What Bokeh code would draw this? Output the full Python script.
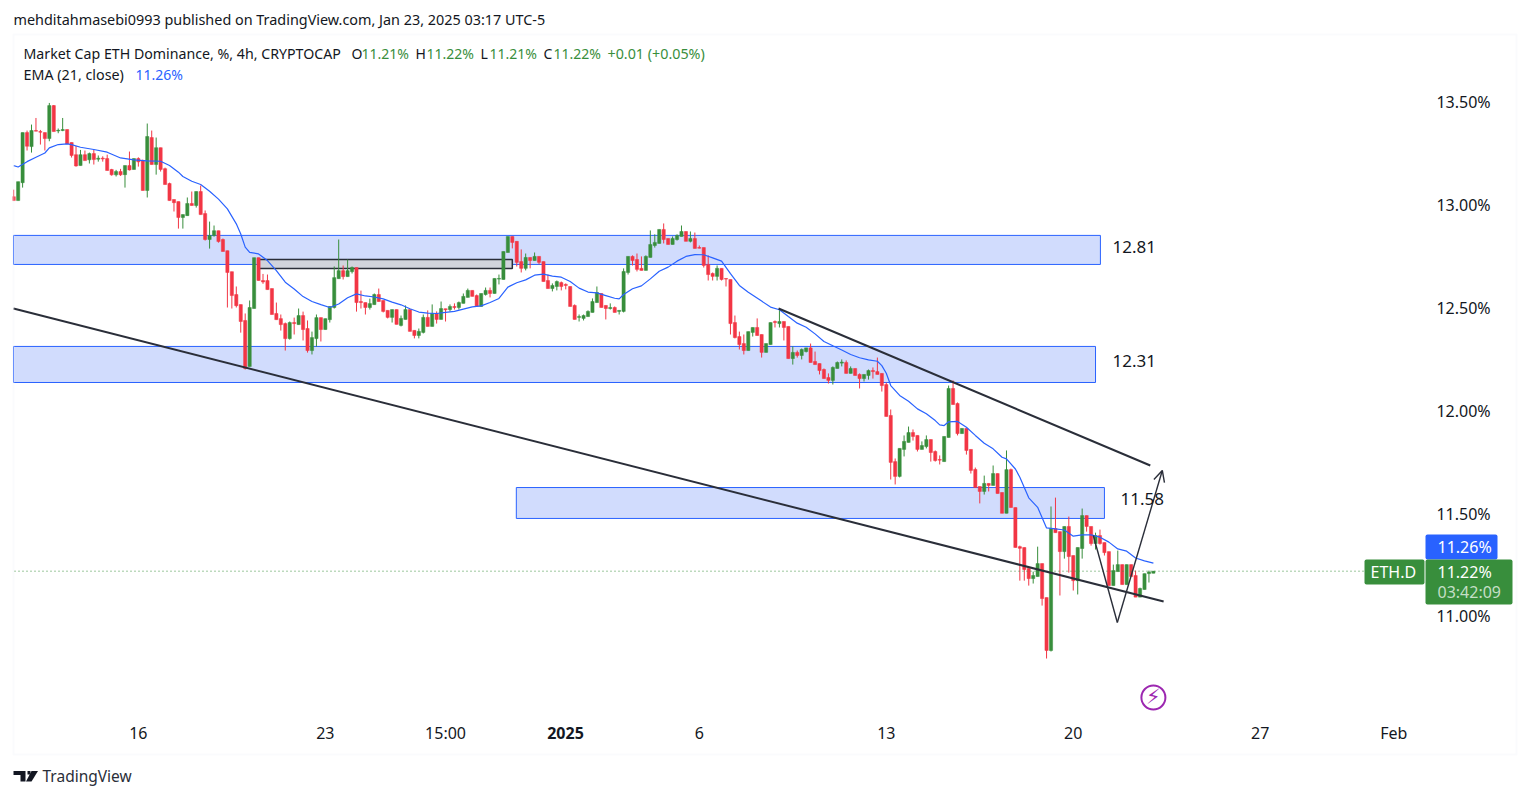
from bokeh.embed import file_html
from bokeh.resources import INLINE
from bokeh.plotting import figure
from bokeh.models import (LinearAxis, FixedTicker, PrintfTickFormatter, Range1d, Label,
                          BoxAnnotation, PolyAnnotation, Arrow, OpenHead, ColumnDataSource)

opens = [13.038,13.019,13.106,13.349,13.281,13.359,13.354,13.349,13.320,13.480,
13.357,13.359,13.364,13.301,13.242,13.189,13.242,13.217,13.247,13.220,
13.225,13.223,13.170,13.144,13.160,13.145,13.189,13.170,13.223,13.213,
13.068,13.325,13.194,13.276,13.174,13.102,13.024,13.014,12.937,12.946,
13.005,12.995,13.063,12.956,12.830,12.849,12.873,12.830,12.776,12.674,
12.563,12.514,12.437,12.213,12.495,12.742,12.631,12.631,12.592,12.471,
12.446,12.422,12.349,12.427,12.417,12.461,12.398,12.291,12.349,12.451,
12.393,12.441,12.500,12.640,12.679,12.650,12.674,12.694,12.529,12.524,
12.500,12.514,12.563,12.534,12.486,12.452,12.490,12.413,12.442,12.490,
12.389,12.364,12.379,12.452,12.408,12.471,12.442,12.494,12.490,12.505,
12.500,12.520,12.549,12.583,12.558,12.505,12.563,12.583,12.568,12.638,
12.636,12.767,12.845,12.821,12.723,12.690,12.743,12.728,12.748,12.723,
12.631,12.592,12.602,12.621,12.612,12.602,12.510,12.452,12.447,12.456,
12.476,12.524,12.568,12.510,12.495,12.500,12.481,12.481,12.670,12.748,
12.733,12.690,12.680,12.743,12.801,12.811,12.879,12.835,12.806,12.830,
12.845,12.869,12.821,12.835,12.791,12.791,12.709,12.665,12.651,12.690,
12.641,12.636,12.427,12.359,12.325,12.291,12.379,12.403,12.369,12.282,
12.320,12.432,12.422,12.432,12.408,12.252,12.282,12.267,12.286,12.304,
12.238,12.228,12.199,12.160,12.146,12.204,12.230,12.233,12.180,12.204,
12.175,12.155,12.170,12.194,12.189,12.180,12.126,11.976,11.752,11.680,
11.811,11.845,11.893,11.879,11.811,11.825,11.859,11.801,11.762,11.752,
11.869,12.107,12.034,11.888,11.913,11.811,11.714,11.631,11.607,11.646,
11.636,11.694,11.602,11.501,11.713,11.529,11.339,11.335,11.233,11.184,
11.194,11.257,11.092,10.835,11.427,11.412,11.315,11.437,11.296,11.174,
11.330,11.490,11.437,11.354,11.393,11.359,11.315,11.150,11.218,11.252,
11.155,11.252,11.199,11.094,11.131,11.208,11.21]

closes = [13.019,13.111,13.349,13.283,13.359,13.356,13.351,13.320,13.480,13.354,
13.360,13.364,13.294,13.238,13.187,13.242,13.213,13.247,13.218,13.225,
13.221,13.165,13.144,13.160,13.144,13.189,13.168,13.223,13.207,13.068,
13.330,13.194,13.276,13.170,13.097,13.019,13.009,12.937,12.951,13.005,
12.995,13.063,12.951,12.830,12.849,12.873,12.820,12.772,12.670,12.558,
12.509,12.432,12.204,12.500,12.742,12.631,12.624,12.587,12.466,12.441,
12.417,12.349,12.427,12.422,12.461,12.393,12.291,12.354,12.451,12.393,
12.446,12.505,12.645,12.679,12.650,12.679,12.694,12.524,12.524,12.500,
12.519,12.563,12.529,12.481,12.452,12.490,12.418,12.447,12.490,12.384,
12.364,12.384,12.452,12.408,12.471,12.442,12.495,12.489,12.505,12.500,
12.524,12.554,12.583,12.554,12.505,12.568,12.583,12.568,12.641,12.641,
12.772,12.845,12.816,12.719,12.690,12.743,12.728,12.748,12.719,12.626,
12.592,12.607,12.626,12.602,12.607,12.505,12.442,12.456,12.461,12.481,
12.529,12.573,12.500,12.495,12.500,12.476,12.486,12.675,12.748,12.728,
12.685,12.680,12.748,12.806,12.816,12.879,12.830,12.806,12.835,12.850,
12.869,12.821,12.835,12.787,12.788,12.704,12.660,12.651,12.690,12.636,
12.638,12.422,12.354,12.320,12.291,12.383,12.403,12.364,12.282,12.325,
12.427,12.427,12.432,12.403,12.252,12.282,12.267,12.296,12.304,12.233,
12.223,12.194,12.155,12.146,12.209,12.233,12.235,12.180,12.204,12.170,
12.155,12.175,12.194,12.189,12.175,12.121,11.971,11.748,11.680,11.816,
11.850,11.893,11.874,11.811,11.830,11.859,11.796,11.757,11.759,11.874,
12.107,12.029,11.888,11.913,11.806,11.709,11.626,11.607,11.646,11.636,
11.694,11.597,11.501,11.713,11.529,11.335,11.331,11.228,11.184,11.199,
11.257,11.087,10.835,11.427,11.407,11.315,11.437,11.291,11.174,11.335,
11.490,11.437,11.354,11.393,11.354,11.310,11.150,11.223,11.252,11.155,
11.252,11.194,11.094,11.136,11.208,11.216,11.22]

highs = [13.072,13.111,13.349,13.359,13.388,13.420,13.362,13.349,13.493,13.483,
13.369,13.420,13.364,13.301,13.284,13.265,13.262,13.252,13.265,13.238,
13.234,13.242,13.173,13.168,13.173,13.189,13.257,13.223,13.229,13.218,
13.393,13.359,13.325,13.276,13.179,13.106,13.024,13.014,12.951,13.034,
13.063,13.063,13.092,12.971,12.917,12.898,12.873,12.835,12.776,12.674,
12.602,12.514,12.471,12.534,12.742,12.742,12.663,12.660,12.592,12.524,
12.466,12.427,12.432,12.451,12.495,12.480,12.437,12.383,12.466,12.451,
12.446,12.505,12.699,12.830,12.704,12.733,12.699,12.694,12.582,12.524,
12.543,12.568,12.592,12.534,12.486,12.490,12.490,12.461,12.510,12.490,
12.389,12.398,12.466,12.486,12.515,12.481,12.529,12.494,12.515,12.520,
12.529,12.568,12.592,12.583,12.563,12.568,12.597,12.597,12.641,12.660,
12.772,12.845,12.845,12.821,12.782,12.762,12.743,12.767,12.748,12.723,
12.660,12.617,12.631,12.626,12.617,12.602,12.515,12.466,12.466,12.486,
12.544,12.602,12.568,12.510,12.520,12.505,12.486,12.690,12.748,12.753,
12.762,12.748,12.753,12.874,12.855,12.879,12.908,12.835,12.845,12.855,
12.898,12.869,12.869,12.864,12.801,12.791,12.753,12.670,12.704,12.690,
12.641,12.636,12.461,12.383,12.369,12.383,12.403,12.447,12.369,12.325,
12.427,12.437,12.495,12.432,12.408,12.311,12.291,12.301,12.304,12.325,
12.286,12.228,12.204,12.180,12.214,12.238,12.248,12.243,12.214,12.204,
12.180,12.175,12.199,12.209,12.257,12.180,12.136,12.005,11.767,11.816,
11.879,11.922,11.908,11.879,11.850,11.879,11.859,11.806,11.782,11.874,
12.121,12.146,12.039,11.913,11.913,11.811,11.723,11.631,11.684,11.646,
11.733,11.694,11.602,11.806,11.718,11.529,11.344,11.335,11.233,11.218,
11.339,11.257,11.092,11.534,11.577,11.412,11.437,11.485,11.296,11.335,
11.524,11.490,11.437,11.407,11.422,11.359,11.315,11.252,11.320,11.252,
11.252,11.252,11.223,11.140,11.208,11.223,11.22]

lows = [13.019,13.019,13.082,13.262,13.252,13.356,13.291,13.262,13.307,13.354,
13.346,13.356,13.294,13.228,13.184,13.189,13.213,13.199,13.194,13.208,
13.208,13.165,13.140,13.136,13.139,13.082,13.165,13.170,13.184,13.068,
13.034,13.194,13.145,13.160,13.097,13.019,12.966,12.883,12.883,12.946,
12.995,12.985,12.951,12.825,12.786,12.844,12.815,12.772,12.500,12.495,
12.500,12.378,12.199,12.213,12.495,12.631,12.615,12.587,12.466,12.441,
12.388,12.291,12.344,12.369,12.417,12.340,12.281,12.272,12.310,12.335,
12.393,12.427,12.495,12.640,12.636,12.650,12.665,12.480,12.495,12.466,
12.490,12.514,12.529,12.476,12.447,12.427,12.418,12.408,12.442,12.384,
12.350,12.350,12.374,12.408,12.408,12.422,12.442,12.432,12.481,12.490,
12.490,12.520,12.549,12.554,12.505,12.505,12.558,12.549,12.568,12.612,
12.636,12.767,12.787,12.699,12.670,12.680,12.690,12.728,12.709,12.626,
12.592,12.578,12.583,12.583,12.588,12.505,12.442,12.432,12.437,12.456,
12.476,12.524,12.500,12.442,12.490,12.476,12.466,12.476,12.660,12.704,
12.675,12.680,12.680,12.743,12.791,12.811,12.811,12.806,12.806,12.825,
12.845,12.821,12.816,12.787,12.787,12.694,12.631,12.631,12.631,12.631,
12.602,12.369,12.350,12.296,12.272,12.291,12.359,12.364,12.257,12.282,
12.320,12.403,12.403,12.340,12.252,12.223,12.257,12.248,12.282,12.233,
12.223,12.175,12.155,12.131,12.126,12.204,12.214,12.180,12.180,12.170,
12.107,12.141,12.150,12.155,12.175,12.092,11.971,11.665,11.641,11.675,
11.777,11.845,11.854,11.801,11.811,11.816,11.752,11.752,11.738,11.752,
11.869,12.029,11.879,11.888,11.786,11.694,11.626,11.549,11.592,11.607,
11.636,11.597,11.501,11.501,11.529,11.335,11.174,11.174,11.150,11.160,
11.194,11.053,10.796,10.830,11.407,11.102,11.281,11.213,11.126,11.107,
11.281,11.412,11.344,11.325,11.349,11.296,11.150,11.150,11.218,11.155,
11.155,11.194,11.094,11.094,11.131,11.165,11.21]

ema_bar = [0,1,3,5,7,8,10,12,13,15,18,21,24,27,30,33,35,37,38,40,42,44,46,48,50,51,52,53,55,57,59,61,63,65,67,69,71,73,75,77,79,81,
83,85,87,89,91,93,95,97,99,101,103,105,107,109,111,113,115,117,119,121,123,125,127,129,131,133,135,136,137,139,141,143,145,147,149,151,153,155,157,159,161,163,
165,168,170,172,174,176,178,180,182,184,186,188,190,192,194,195,196,197,199,201,203,205,207,208,209,210,212,214,216,218,220,222,223,
225,226,228,230,232,234,236,238,240,242,244,246,248,250,252,254,256]
ema_val = [13.189,13.182,13.208,13.229,13.250,13.275,13.291,13.294,13.291,13.278,13.267,13.254,13.226,13.217,13.212,13.210,13.189,13.157,13.136,13.113,13.097,13.064,13.026,12.979,12.906,12.857,12.793,12.768,12.760,12.728,12.679,12.623,12.590,12.553,12.529,12.514,12.500,12.517,12.547,12.566,12.556,12.551,
12.542,12.526,12.513,12.494,12.478,12.473,12.471,12.476,12.481,12.492,12.503,12.508,12.524,12.544,12.599,12.620,12.634,12.657,12.662,12.652,12.647,12.626,12.594,12.575,12.571,12.558,12.545,12.542,12.563,12.591,12.605,12.639,12.676,12.696,12.725,12.748,12.757,12.756,12.741,12.725,12.664,12.607,
12.574,12.531,12.502,12.489,12.456,12.424,12.404,12.372,12.335,12.314,12.294,12.272,12.256,12.246,12.239,12.218,12.181,12.121,12.073,12.045,12.008,11.984,11.951,11.930,11.927,11.945,11.947,11.919,11.879,11.841,11.814,11.773,11.765,
11.716,11.676,11.576,11.530,11.430,11.425,11.420,11.390,11.396,11.396,11.385,11.361,11.328,11.317,11.284,11.270,11.259]

price_ticks = [13.5, 13.0, 12.5, 12.0, 11.5, 11.0]
time_ticks = [28, 70, 97, 154, 196, 238, 280, 310]
time_labels = ["16", "23", "15:00", "6", "13", "20", "27", "Feb"]

zone_left = [-0.05, -0.05, 112.9]
zone_right = [244.1, 243.0, 245.0]
zone_top = [12.850, 12.311, 11.626]
zone_bottom = [12.709, 12.136, 11.476]
zone_labels = ["12.81", "12.31", "11.58"]
zone_label_bar = [246.8, 246.8, 248.6]
zone_label_val = [12.796, 12.238, 11.568]

FONT = "Noto Sans"
GREEN, RED, BLUE, INK = "#388e3c", "#f23645", "#2962ff", "#131722"
LINE = "#2a2e39"
AXIS_BAR = 317.1
AXIS_PRICE = 10.495

p = figure(width=1529, height=798, output_backend="svg", toolbar_location=None,
           x_range=Range1d(-2.965, 340.48), y_range=Range1d(10.1165, 13.9903),
           x_axis_location=None, y_axis_location=None,
           min_border_left=0, min_border_right=0, min_border_top=0, min_border_bottom=0)
p.outline_line_color = None
p.grid.visible = False
p.background_fill_color = "white"
p.border_fill_color = "white"

ax_r = LinearAxis(ticker=FixedTicker(ticks=price_ticks), formatter=PrintfTickFormatter(format="%.2f%%"),
                  fixed_location=AXIS_BAR)
ax_b = LinearAxis(ticker=FixedTicker(ticks=time_ticks),
                  major_label_overrides={t: s for t, s in zip(time_ticks, time_labels)},
                  fixed_location=AXIS_PRICE)
for ax in (ax_r, ax_b):
    ax.axis_line_color = None
    ax.major_tick_line_color = None
    ax.minor_tick_line_color = None
    ax.major_tick_out = 0
    ax.major_tick_in = 0
    ax.major_label_text_font = FONT
    ax.major_label_text_color = INK
ax_r.major_label_text_font_size = "16px"
ax_r.major_label_standoff = 11
ax_b.major_label_text_font_size = "16px"
ax_b.major_label_standoff = 1
p.add_layout(ax_r, "right")
p.add_layout(ax_b, "below")

# zones
p.quad(left=zone_left, right=zone_right, top=zone_top, bottom=zone_bottom,
       fill_color="#d1dcfd", line_color=BLUE, line_width=1)
p.quad(left=[55], right=[112], top=[12.733], bottom=[12.689],
       fill_color="#d1d4dc", line_color=LINE, line_width=1.5)

# candles
bars = list(range(len(closes)))
src = ColumnDataSource(dict(
    bar=bars, top=[max(o, c) for o, c in zip(opens, closes)],
    bottom=[min(o, c) for o, c in zip(opens, closes)],
    high=highs, low=lows,
    color=[GREEN if c >= o else RED for o, c in zip(opens, closes)]))
p.segment(x0="bar", x1="bar", y0="low", y1="high", color="color", line_width=1, source=src)
p.vbar(x="bar", width=0.72, top="top", bottom="bottom", fill_color="color", line_color="color",
       line_width=0.5, source=src)

# EMA
p.line(ema_bar, ema_val, color=BLUE, line_width=1.2)

# last price
p.line([0.18, AXIS_BAR], [11.22, 11.22], color=GREEN, line_dash="1 3", line_width=1)

# trend lines
p.line([-0.05, 258.3], [12.495, 11.073], color=LINE, line_width=2)
p.line([171.8, 255.3], [12.495, 11.733], color=LINE, line_width=2)
p.line([242.5, 247.9], [11.393, 10.971], color=LINE, line_width=1.4)
p.add_layout(Arrow(end=OpenHead(size=11, line_width=1.4, line_color=LINE), x_start=247.9, y_start=10.971,
                   x_end=258.0, y_end=11.709, line_color=LINE, line_width=1.4))

# purple mark
p.scatter([256], [10.607], marker="circle", size=24, fill_color=None, line_color="#9c27b0", line_width=2)
p.add_layout(Label(x=256, y=10.607, text="\u26a1", text_font="DejaVu Sans", text_font_size="21px",
                   text_color="#9c27b0", text_align="center", text_baseline="middle"))

for s, b, v in zip(zone_labels, zone_label_bar, zone_label_val):
    p.add_layout(Label(x=b, y=v, text=s, text_font=FONT, text_font_size="17px", text_color=INK,
                       text_align="left", text_baseline="middle"))

def box(l, t, r, b, **kw):
    p.add_layout(BoxAnnotation(left=l, right=r, top=t, bottom=b, left_units="canvas", right_units="canvas",
                               top_units="canvas", bottom_units="canvas", level="overlay", **kw))

def txt(x, y, s, size="14px", color=INK, style="normal", align="left"):
    p.add_layout(Label(x=x, y=y - 1, x_units="canvas", y_units="canvas", text=s, text_font=FONT,
                       text_font_size=size, text_color=color, text_font_style=style,
                       text_align=align, text_baseline="middle", level="overlay"))

# pane edge and frame
box(0, 0, 12, 798, fill_color="white", fill_alpha=1, line_width=0, line_alpha=0)
box(13, 34, 1516, 754, fill_alpha=0, line_color="#f0f3fa", line_width=2)

# badges
box(1364, 559, 1424, 584, fill_color=GREEN, fill_alpha=1, line_color=GREEN, line_width=0, border_radius=2)
box(1425, 534, 1497, 559, fill_color=BLUE, fill_alpha=1, line_color=BLUE, line_width=0, border_radius=2)
box(1425, 559, 1512, 604, fill_color=GREEN, fill_alpha=1, line_color=GREEN, line_width=0, border_radius=2)
txt(1370, 572, "ETH.D", "16px", "white")
txt(1437, 547, "11.26%", "16px", "white")
txt(1437, 572, "11.22%", "16px", "white")
txt(1437, 592, "03:42:09", "16px", "#c5dfc7")

txt(565, 733, "2025", "16px", INK, "bold", "center")

# header
txt(13, 20, "mehditahmasebi0993 published on TradingView.com, Jan 23, 2025 03:17 UTC-5", "14.4px")
txt(23, 54, "Market Cap ETH Dominance, %, 4h, CRYPTOCAP", "14.2px")
txt(351, 54, "O", "14px")
txt(361, 54, "11.21%", "14px", GREEN)
txt(415, 54, "H", "14px")
txt(426, 54, "11.22%", "14px", GREEN)
txt(480, 54, "L", "14px")
txt(489, 54, "11.21%", "14px", GREEN)
txt(543, 54, "C", "14px")
txt(553, 54, "11.22%", "14px", GREEN)
txt(607, 54, "+0.01 (+0.05%)", "14.3px", GREEN)
txt(23, 75, "EMA (21, close)", "14.3px")
txt(135, 75, "11.26%", "14px", BLUE)

# TradingView mark
mark = "#131722"
for xs, ys in (([13, 25, 25, 20, 20, 13], [770.5, 770.5, 781, 781, 774.5, 774.5]),
               ([31, 37.5, 31, 25.5], [770.5, 770.5, 781, 781]),
               ([27, 30, 30, 27], [770.5, 770.5, 774, 774])):
    p.add_layout(PolyAnnotation(xs=xs, ys=ys, xs_units="canvas", ys_units="canvas", level="overlay",
                                fill_color=mark, fill_alpha=1, line_color=mark, line_width=0))
txt(42, 776, "TradingView", "15.5px", "#2a2e39")

open("out.html", "w").write(file_html(p, INLINE))
